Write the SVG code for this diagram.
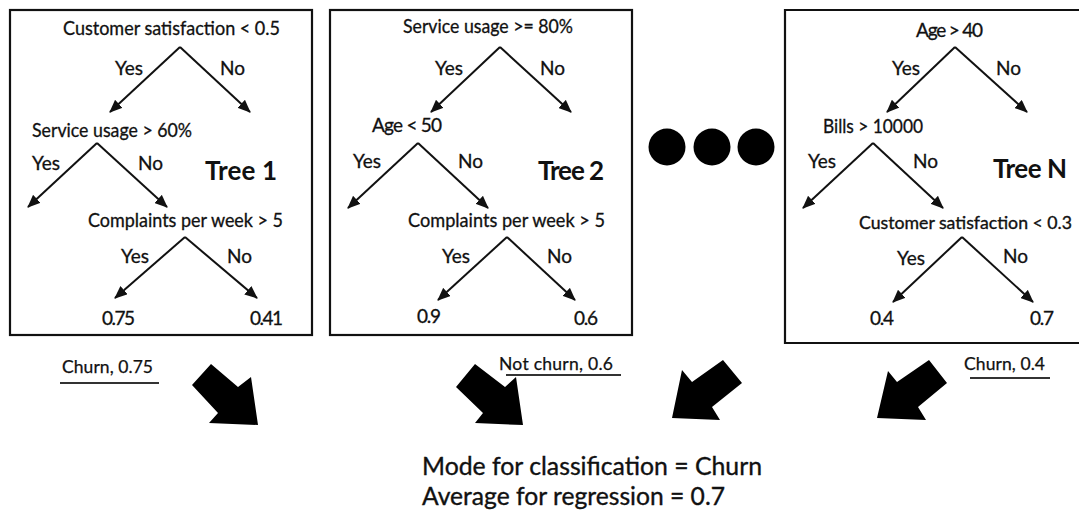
<svg xmlns="http://www.w3.org/2000/svg" width="1079" height="512" viewBox="0 0 1079 512">
  <style>
    .box { fill: none; stroke: #111; stroke-width: 2.2; }
    .t { font-family: Lato, "Liberation Sans", sans-serif; font-size: 19px; fill: #111; stroke: #111; stroke-width: 0.3; }
    .t.tight { font-size: 17.5px; stroke-width: 0.35; }
    .title { font-family: Lato, "Liberation Sans", sans-serif; font-size: 26px; font-weight: bold; fill: #111; }
    .vote { font-family: Lato, "Liberation Sans", sans-serif; font-size: 17.5px; fill: #111; stroke: #111; stroke-width: 0.25; }
    .result { font-family: Lato, "Liberation Sans", sans-serif; font-size: 24.5px; fill: #111; stroke: #111; stroke-width: 0.35; }
    .edge { stroke: #111; stroke-width: 2; fill: none; marker-end: url(#head); }
    .uline { stroke: #333; stroke-width: 2; }
    .big { fill: #000; }
  </style>
  <defs>
    <marker id="head" markerUnits="userSpaceOnUse" markerWidth="13" markerHeight="11" refX="12" refY="5.5" orient="auto">
      <path d="M0,0 L13,5.5 L0,11 z" fill="#111"/>
    </marker>
  </defs>

  <rect width="1079" height="512" fill="#fff"/>

  <!-- Tree 1 -->
  <g id="tree1">
    <rect class="box" x="10" y="10" width="302" height="325"/>
    <text class="t" x="63" y="35" textLength="217" lengthAdjust="spacingAndGlyphs">Customer satisfaction &lt; 0.5</text>
    <text class="t" x="32" y="137" textLength="160" lengthAdjust="spacingAndGlyphs">Service usage &gt; 60%</text>
    <text class="title" x="205" y="180" textLength="72">Tree 1</text>
    <text class="t" x="88" y="227" textLength="195" lengthAdjust="spacingAndGlyphs">Complaints per week &gt; 5</text>
    <text class="t" x="102" y="325" textLength="33">0.75</text>
    <text class="t" x="250" y="325" textLength="33">0.41</text>
    <g class="branch-labels">
      <text class="t" x="115" y="75">Yes</text>
      <text class="t" x="220" y="75">No</text>
      <text class="t" x="32" y="170">Yes</text>
      <text class="t" x="138" y="170">No</text>
      <text class="t" x="121" y="263">Yes</text>
      <text class="t" x="227" y="263">No</text>
    </g>
  </g>

  <!-- Tree 2 -->
  <g id="tree2">
    <rect class="box" x="330" y="10" width="302" height="325"/>
    <text class="t" x="403" y="33" textLength="170" lengthAdjust="spacingAndGlyphs">Service usage &gt;= 80%</text>
    <text class="t" x="372" y="132" textLength="70">Age &lt; 50</text>
    <text class="title" x="538" y="180" textLength="66">Tree 2</text>
    <text class="t" x="408" y="227" textLength="197" lengthAdjust="spacingAndGlyphs">Complaints per week &gt; 5</text>
    <text class="t" x="417" y="323" textLength="24">0.9</text>
    <text class="t" x="574" y="325" textLength="24">0.6</text>
    <g class="branch-labels">
      <text class="t" x="435" y="75">Yes</text>
      <text class="t" x="540" y="75">No</text>
      <text class="t" x="353" y="168">Yes</text>
      <text class="t" x="458" y="168">No</text>
      <text class="t" x="442" y="263">Yes</text>
      <text class="t" x="547" y="263">No</text>
    </g>
  </g>

  <!-- Ellipsis between trees -->
  <g id="ellipsis">
    <circle cx="667" cy="147" r="18.5" fill="#000"/>
    <circle cx="712" cy="147" r="18.5" fill="#000"/>
    <circle cx="756" cy="147" r="18.5" fill="#000"/>
  </g>

  <!-- Tree N: frame runs off the right edge, so only three sides are drawn -->
  <g id="treeN">
    <path class="box" d="M1079,10 H785 V343 H1079"/>
    <text class="t" x="916" y="37" textLength="67">Age &gt; 40</text>
    <text class="t" x="823" y="133" textLength="100" lengthAdjust="spacingAndGlyphs">Bills &gt; 10000</text>
    <text class="title" x="993" y="178" textLength="74">Tree N</text>
    <text class="t tight" x="859" y="229" textLength="213" lengthAdjust="spacingAndGlyphs">Customer satisfaction &lt; 0.3</text>
    <text class="t" x="870" y="325" textLength="24">0.4</text>
    <text class="t" x="1030" y="325" textLength="24">0.7</text>
    <g class="branch-labels">
      <text class="t" x="892" y="75">Yes</text>
      <text class="t" x="996" y="75">No</text>
      <text class="t" x="808" y="168">Yes</text>
      <text class="t" x="913" y="168">No</text>
      <text class="t" x="897" y="265">Yes</text>
      <text class="t" x="1003" y="263">No</text>
    </g>
  </g>

  <!-- Branch connectors -->
  <g id="connectors">
    <path class="edge" d="M180,47 L110,112"/>
    <path class="edge" d="M180,47 L250,112"/>
    <path class="edge" d="M97,143 L28,207"/>
    <path class="edge" d="M97,143 L167,207"/>
    <path class="edge" d="M185,237 L115,298"/>
    <path class="edge" d="M185,237 L257,298"/>

    <path class="edge" d="M500,47 L431,112"/>
    <path class="edge" d="M500,47 L571,112"/>
    <path class="edge" d="M418,143 L348,208"/>
    <path class="edge" d="M418,143 L488,208"/>
    <path class="edge" d="M507,237 L438,300"/>
    <path class="edge" d="M507,237 L575,300"/>

    <path class="edge" d="M955,47 L887,112"/>
    <path class="edge" d="M955,47 L1027,112"/>
    <path class="edge" d="M873,143 L803,208"/>
    <path class="edge" d="M873,143 L943,208"/>
    <path class="edge" d="M962,237 L893,302"/>
    <path class="edge" d="M962,237 L1033,302"/>
  </g>

  <!-- Votes from each tree -->
  <g id="votes">
    <text class="vote" x="62" y="373" textLength="91">Churn, 0.75</text>
    <line class="uline" x1="60" y1="383" x2="159" y2="383"/>
    <text class="vote" x="499" y="370" textLength="114">Not churn, 0.6</text>
    <line class="uline" x1="506" y1="375" x2="621" y2="375"/>
    <text class="vote" x="964" y="370" textLength="81">Churn, 0.4</text>
    <line class="uline" x1="970" y1="378" x2="1050" y2="378"/>
  </g>

  <!-- Block arrows into the aggregate -->
  <g id="block-arrows">
    <polygon class="big" points="192,385 211,364 238,387 251,377 258,425 209,423 218,413"/>
    <polygon class="big" points="456,387 475,364 505,387 516,377 523,425 475,423 483,413"/>
    <polygon class="big" points="723,360 742,383 712,407 720,420 672,418 682,370 692,382"/>
    <polygon class="big" points="929,360 947,383 918,407 926,420 877,418 888,371 897,382"/>
  </g>

  <!-- Aggregated result -->
  <g id="result">
    <text class="result" x="422" y="475" textLength="340" lengthAdjust="spacingAndGlyphs">Mode for classification = Churn</text>
    <text class="result" x="422" y="505" textLength="303" lengthAdjust="spacingAndGlyphs">Average for regression = 0.7</text>
  </g>
</svg>
